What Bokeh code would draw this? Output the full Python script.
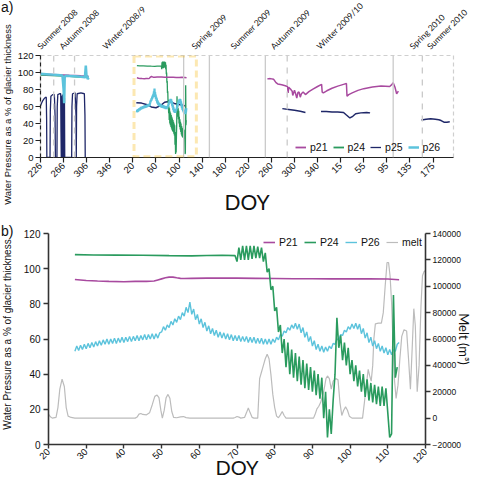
from math import pi
from bokeh.plotting import figure
from bokeh.layouts import column, row
from bokeh.models import (Range1d, LinearAxis, FixedTicker, Span, BoxAnnotation,
                          Legend, LegendItem, BasicTickFormatter)
from bokeh.core.properties import value
from bokeh.embed import file_html
from bokeh.resources import INLINE

# ---------------- Panel a : days counted from DOY 226 of 2008 ----------------
a_tick_day = [0, 40, 80, 120, 160, 200, 240, 280, 320, 360, 400, 440, 480, 520, 560, 600, 640, 680]
a_tick_label = ["226", "266", "306", "346", "20", "60", "100", "140", "180", "220",
                "260", "300", "340", "15", "55", "95", "135", "175"]
doy2009_offset = 140

season_name = ["Summer 2008", "Autumn 2008", "Winter 2008/9", "Spring 2009", "Summer 2009",
               "Autumn 2009", "Winter 2009/10", "Spring 2010", "Summer 2010"]
season_label_day = [8.6, 46.5, 120.5, 273.7, 340.8, 409.7, 488.8, 648.9, 679]
season_line_day = [22.9, 59, 248, 292.6, 389.5, 427.4, 611, 661.5]
season_line_dash = ["dashed", "dashed", "solid", "solid", "solid", "dashed", "solid", "dashed"]
zoom_box_day = [162, 270]

a_p21_2008_day = [0, 10, 20, 30, 40, 50, 60, 70, 80, 83]
a_p21_2008_val = [98, 97.8, 97.5, 97.2, 97, 96.6, 96.3, 96, 95.8, 95.5]
a_p24_2008_val = [97.3, 97, 96.7, 96.3, 96, 95.7, 95.3, 95, 94.8, 94.5]
a_p26_2008_day = [0, 10, 20, 30, 38, 40, 41, 42, 44, 50, 60, 70, 77, 78.5, 80, 81, 82, 83]
a_p26_2008_val = [98.5, 98, 97.5, 97, 96.5, 80, 64, 95, 96.2, 96, 95.5, 95, 94.5, 108, 93, 96, 92, 94]
a_p25_2008_day = [0, 2, 4, 6, 8, 10, 10.6, 11, 16.5, 17, 18, 21, 24, 25.2, 25.8, 28.5, 29, 30, 33, 35,
                  35.5, 36, 36.5, 37, 37.5, 38, 38.5, 39, 39.5, 40, 40.5, 41, 41.5, 42, 54, 54.5, 55.5,
                  60, 61.5, 62, 62.5, 63.5, 70, 76, 77, 77.5]
a_p25_2008_val = [61, 64, 67, 69, 70.5, 71, 45, 0, 0, 55, 72, 74, 74, 50, 0, 0, 60, 74, 75, 75,
                  30, 0, 72, 0, 73, 0, 74, 0, 72, 0, 73, 0, 70, 0, 0, 60, 75,
                  76, 50, 0, 60, 75, 76, 75, 50, 0]
a_p25_box_day = [166, 175, 185, 192, 200, 208, 215, 222, 232, 242, 252]
a_p25_box_val = [64.5, 64, 62, 59.5, 58.5, 61, 65, 66, 63.5, 62, 60.5]
a_p21_late_day = [393, 398, 404, 408, 411, 418, 424, 428, 429, 430, 433, 436, 437, 440, 442, 444, 446,
                  448, 450, 452, 455, 459, 465, 472, 480, 487, 488, 490, 496, 505, 515, 525, 530, 531,
                  534, 540, 550, 560, 575, 590, 605, 609, 611, 614, 617, 620]
a_p21_late_val = [92.5, 92.8, 92, 88, 86.5, 85.5, 84.5, 83.5, 76, 82.5, 80.5, 78, 73, 79, 75, 70, 76.5,
                  77, 71, 75, 77, 74, 77.5, 80.5, 83.5, 86, 77, 76, 78.5, 81.5, 84, 86, 87, 72,
                  74, 76, 79, 81, 83, 84, 83.5, 86, 88, 83, 75, 78]
a_p25_late1_day = [419, 430, 440, 450, 459]
a_p25_late1_val = [57.5, 56.5, 55.5, 54.5, 53]
a_p25_late2_day = [486, 495, 505, 515, 525, 530, 536, 541, 546, 555, 565, 571]
a_p25_late2_val = [54, 54, 53.5, 53.5, 53, 50, 46.5, 48.5, 51.5, 52.5, 53, 52.5]
a_p25_late3_day = [660, 668, 676, 684, 690, 694, 699, 704, 709]
a_p25_late3_val = [44, 45, 45.5, 45, 44.5, 43.5, 41.5, 41.5, 42]

# ---------------- Panel b : DOY 2009 ----------------
b_x_ticks = [20, 30, 40, 50, 60, 70, 80, 90, 100, 110, 120]
b_y_ticks = [0, 20, 40, 60, 80, 100, 120]
melt_ticks = [-20000, 0, 20000, 40000, 60000, 80000, 100000, 120000, 140000]

p21_doy = [27, 30, 33, 36, 40, 43, 46, 48, 49, 50, 51, 52, 53, 54, 55, 56, 58, 62, 66, 70,
           75, 80, 85, 90, 95, 100, 105, 110, 113]
p21_val = [93.8, 93.3, 93.0, 92.8, 92.6, 92.8, 92.8, 93.0, 93.6, 94.2, 94.8, 95.2, 95.2, 94.8, 94.5,
           94.4, 94.5, 94.6, 94.6, 94.6, 94.5, 94.4, 94.3, 94.3, 94.2, 94.2, 94.3, 94.1, 93.7]

p24_flat_doy = [27, 32, 38, 45, 52, 58, 62, 66, 69.5]
p24_flat_val = [108, 107.8, 107.7, 107.6, 107.4, 107.3, 107.5, 107.6, 107.4]
p24_osc_start = 70
p24_osc_val = [104, 112, 105, 113, 105, 113, 105, 113, 105.5, 113,
               106, 112.5, 106, 112, 104, 109, 98, 100, 88, 90,
               76, 78, 64, 68, 52, 60, 44, 58, 40, 54,
               38, 52, 36, 50, 34, 48, 32, 46, 31, 44,
               30, 42, 28, 40, 26, 38, 15, 30, 4, 20,
               6, 25, 40, 72, 55, 62, 48, 58, 45, 55,
               40, 48, 36, 45, 33, 42, 30, 40, 27, 37,
               25, 35, 24, 34, 23, 33, 22, 33, 22, 32,
               18, 4, 6, 85, 38, 44]

p26_start = 27
p26_val = [53, 56, 53.5, 56.5, 54, 57, 54.5, 57.5, 55, 58,
           55.5, 58.5, 56, 59, 56.5, 59.5, 57, 60, 57, 60,
           57.5, 60.5, 57.5, 60.5, 58, 61, 58, 61, 58.5, 61.5,
           58.5, 61.5, 59, 62, 59, 62, 59.5, 62.5, 59.5, 62.5,
           60, 63, 60, 63, 60.5, 63.5, 64, 67, 65, 68,
           66.5, 70, 68, 71.5, 69.5, 73, 71, 75, 73, 78,
           75, 81, 74, 77, 71, 74, 68.5, 71.5, 66.5, 69.5,
           64.5, 67.5, 63, 66, 62, 65, 61, 64, 60.5, 63.5,
           60, 63, 59.5, 62.5, 59, 62, 59, 62, 58.5, 61.5,
           58.5, 61.5, 58, 61, 58, 61, 57.5, 60.5, 57.5, 60.5,
           57, 60, 57, 60, 57, 60, 58, 61, 59.5, 62.5,
           61.5, 64.5, 63.5, 66.5, 65, 68, 66, 69, 65.5, 68.5,
           63.5, 66.5, 61, 64, 58.5, 61.5, 56, 59, 54, 57,
           53, 56, 52.5, 55.5, 53, 56, 54.5, 57.5, 57, 60,
           59.5, 62.5, 62, 65, 64, 67, 65.5, 68.5, 66, 69,
           65.5, 68.5, 63, 66, 60.5, 63.5, 58, 61, 56, 59,
           54.5, 57.5, 53, 56, 52, 55, 51, 54, 51, 54,
           53, 57, 58]

melt_doy = [20, 20.5, 21, 22, 22.5, 23, 23.6, 24.2, 24.7, 25.2,
            26, 27, 43, 43.5, 44, 44.5, 45, 46, 46.8, 47.5,
            48.2, 48.8, 49.3, 49.8, 50.2, 50.7, 51.2, 51.7, 52.2, 52.7,
            53.2, 54, 55, 55.8, 56.5, 57.5, 69, 69.5, 70, 70.5,
            71, 72, 72.5, 73, 73.5, 74, 74.5, 75.5, 76, 76.5,
            77, 77.5, 78, 78.5, 79, 79.5, 80, 80.5, 81, 81.5,
            82, 82.5, 83, 90.3, 90.8, 91.2, 91.7, 92.2, 93, 93.6,
            94, 94.5, 95, 95.5, 96.2, 96.8, 97.3, 97.8, 98.3, 98.8,
            99.3, 99.8, 100.5, 103.3, 103.8, 104.3, 104.8, 105.2, 105.6, 106.0,
            106.3, 106.7, 107.5, 108.3, 108.8, 109.3, 109.8, 110.2, 110.6, 111.0,
            111.4, 111.8, 112.2, 112.7, 113.2, 113.7, 114.3, 115.0, 115.5, 116.0,
            116.5, 116.9, 117.3, 117.8, 118.3, 118.8, 119.2, 119.6, 120.0]
melt_m3 = [3000, 1000, 0, 500, 8000, 22000, 29500, 24000, 8000, 1500,
           500, 0, 0, 800, 3000, 3500, 2800, 2500, 4000, 10000,
           16500, 17500, 15500, 6000, 0, 6000, 15500, 18000, 15000, 5000,
           500, 300, 1000, 1200, 400, 0, 0, 500, 1200, 800,
           0, 500, 4000, 7700, 4000, 600, 0, 0, 30000, 35000,
           40000, 45000, 48500, 45000, 33000, 18000, 8000, 1500, 300, 2500,
           5000, 2000, 0, 0, 3500, 7000, 9000, 12000, 20000, 30000,
           32000, 30000, 22000, 28000, 30000, 29000, 12000, 2000, 6000, 8500,
           6000, 1500, 0, 0, 12000, 25000, 37000, 32000, 28000, 40000,
           60000, 71500, 72000, 72000, 80000, 100000, 118000, 118000, 108000, 88000,
           55000, 28000, 15000, 25000, 45000, 62000, 67000, 66000, 45000, 22000,
           55000, 83000, 70000, 20000, 40000, 85000, 108000, 111000, 112000]

# derived x grids
p24_doy = p24_flat_doy + [p24_osc_start + 0.5 * i for i in range(len(p24_osc_val))]
p24_val = p24_flat_val + p24_osc_val
p26_doy = [p26_start + 0.5 * i for i in range(len(p26_val))]

C21, C24, C25, C26, CM = "#a84a9f", "#2a9b5e", "#1f2768", "#5cc3dc", "#bcbcbc"
AX = "Liberation Sans"
CAL = "Lato"
YLABEL = "Water Pressure as a % of glacier thickness"

LAB_W = 14           # narrow column holding the vertical axis titles and panel letters
W = 475 - LAB_W
TOTAL_H = 484
A_LEFT, A_RIGHT = 37 - LAB_W, 22
A_X1 = 715.5
day_per_px = A_X1 / (W - A_LEFT - A_RIGHT)
STRIP_H = 52
PA_H = 164
PB_H = TOTAL_H - STRIP_H - PA_H

# ======================= left label column =======================
lab = figure(width=LAB_W, height=TOTAL_H, x_range=Range1d(0, LAB_W), y_range=Range1d(0, TOTAL_H),
             output_backend="svg", toolbar_location=None, x_axis_type=None, y_axis_type=None,
             frame_align=False, min_border_left=0, min_border_right=0, min_border_top=0,
             min_border_bottom=0)
lab.grid.visible = False
lab.outline_line_color = None
lab.text(x=[7], y=[TOTAL_H - 114], text=[YLABEL], angle=pi / 2,
         text_font=value(AX), text_font_size="9.5px", text_color="#111111",
         text_align="center", text_baseline="middle")
lab.text(x=[7], y=[TOTAL_H - 334], text=[YLABEL], angle=pi / 2,
         text_font=value(AX), text_font_size="10px", text_color="#111111",
         text_align="center", text_baseline="middle")
lab.text(x=[0.5, 0.5], y=[TOTAL_H - 14, TOTAL_H - 238], text=["a)", "b)"],
         text_font=value(AX), text_font_size="14px", text_color="#111111",
         text_align="left", text_baseline="bottom")

# ======================= season strip (above panel a) =======================
strip = figure(width=W, height=STRIP_H, x_range=Range1d(-A_LEFT * day_per_px, A_X1 + A_RIGHT * day_per_px),
               y_range=Range1d(0, STRIP_H), output_backend="svg", toolbar_location=None,
               x_axis_type=None, y_axis_type=None, frame_align=False,
               min_border_left=0, min_border_right=0, min_border_top=0, min_border_bottom=0)
strip.grid.visible = False
strip.outline_line_color = None
strip.text(x=season_label_day, y=[1] * len(season_label_day), text=season_name, angle=pi / 4,
           text_font=value(CAL), text_font_size="8.5px", text_color="#111111",
           text_align="left", text_baseline="bottom")

# ======================= Panel a =======================
pa = figure(width=W, height=PA_H, x_range=Range1d(0, A_X1), y_range=Range1d(0, 120),
            output_backend="svg", toolbar_location=None, frame_align=False,
            min_border_left=A_LEFT, min_border_right=A_RIGHT, min_border_top=3, min_border_bottom=59)
pa.grid.visible = False
pa.outline_line_color = "#cfcfcf"
pa.outline_line_dash = "4 3"
pa.outline_line_width = 1.2

for d, dash in zip(season_line_day, season_line_dash):
    pa.add_layout(Span(location=d, dimension="height", line_color="#cacaca",
                       line_width=1.3, line_dash=dash))

pa.add_layout(BoxAnnotation(left=zoom_box_day[0], right=zoom_box_day[1], bottom=1, top=119.5,
                            fill_alpha=0, line_color="#f5b400", line_width=3, line_dash="7 4"))

r25 = pa.line(a_p25_2008_day, a_p25_2008_val, color=C25, line_width=1.3)
pa.line(a_p25_box_day, a_p25_box_val, color=C25, line_width=1.5)
pa.line(a_p25_late1_day, a_p25_late1_val, color=C25, line_width=1.5)
pa.line(a_p25_late2_day, a_p25_late2_val, color=C25, line_width=1.5)
pa.line(a_p25_late3_day, a_p25_late3_val, color=C25, line_width=1.5)

r24 = pa.line(a_p21_2008_day, a_p24_2008_val, color=C24, line_width=1.8)
pa.line([d + doy2009_offset for d in p24_doy], p24_val, color=C24, line_width=1.3)
r21 = pa.line(a_p21_2008_day, a_p21_2008_val, color=C21, line_width=1.8)
pa.line([d + doy2009_offset for d in p21_doy], p21_val, color=C21, line_width=1.5)
pa.line(a_p21_late_day, a_p21_late_val, color=C21, line_width=1.5)
r26 = pa.line(a_p26_2008_day, a_p26_2008_val, color=C26, line_width=2.5)
pa.line([d + doy2009_offset for d in p26_doy], p26_val, color=C26, line_width=2.2)

leg_a = Legend(items=[LegendItem(label="p21", renderers=[r21]),
                      LegendItem(label="p24", renderers=[r24]),
                      LegendItem(label="p25", renderers=[r25]),
                      LegendItem(label="p26", renderers=[r26])],
               orientation="horizontal", location=(255, 4), background_fill_alpha=0,
               border_line_color=None, glyph_width=11, glyph_height=12, label_standoff=4,
               label_width=16, spacing=5, padding=2, margin=0, label_text_font=AX,
               label_text_font_size="10.5px", label_text_color="#111111")
pa.add_layout(leg_a)

xa = pa.xaxis[0]
xa.ticker = FixedTicker(ticks=a_tick_day)
xa.major_label_overrides = {d: l for d, l in zip(a_tick_day, a_tick_label)}
xa.major_label_orientation = pi / 4
xa.axis_label = "DOY"
xa.axis_label_text_font = CAL
xa.axis_label_text_font_size = "21px"
xa.axis_label_standoff = 6
ya = pa.yaxis[0]
ya.ticker = FixedTicker(ticks=b_y_ticks)
ya.axis_line_dash = "4 3"
for ax in (xa, ya):
    ax.axis_line_color = "#222222"
    ax.axis_line_width = 1.2
    ax.major_tick_line_color = "#222222"
    ax.major_tick_line_width = 1.2
    ax.major_tick_out = 5
    ax.major_tick_in = 0
    ax.minor_tick_line_color = None
    ax.major_label_text_font = AX
    ax.major_label_text_font_size = "9.5px"
    ax.major_label_text_color = "#111111"
    ax.major_label_standoff = 2
    ax.axis_label_text_font_style = "normal"
    ax.axis_label_text_color = "#111111"

# ======================= Panel b =======================
pb = figure(width=W, height=PB_H, x_range=Range1d(20, 120), y_range=Range1d(0, 120),
            output_backend="svg", toolbar_location=None, frame_align=False,
            min_border_left=48 - LAB_W, min_border_right=50, min_border_top=17, min_border_bottom=40)
pb.grid.visible = False
pb.outline_line_color = None
pb.extra_y_ranges = {"melt": Range1d(-20000, 140000)}

rm = pb.line(melt_doy, melt_m3, color=CM, line_width=1.2, y_range_name="melt")
rb21 = pb.line(p21_doy, p21_val, color=C21, line_width=1.6)
rb26 = pb.line(p26_doy, p26_val, color=C26, line_width=1.4)
rb24 = pb.line(p24_doy, p24_val, color=C24, line_width=1.6)

ax_r = LinearAxis(y_range_name="melt", ticker=FixedTicker(ticks=melt_ticks),
                  formatter=BasicTickFormatter(use_scientific=False), axis_label="Melt (m³)")
pb.add_layout(ax_r, "right")

leg_b = Legend(items=[LegendItem(label="P21", renderers=[rb21]),
                      LegendItem(label="P24", renderers=[rb24]),
                      LegendItem(label="P26", renderers=[rb26]),
                      LegendItem(label="melt", renderers=[rm])],
               orientation="horizontal", location="top_right", background_fill_alpha=0,
               border_line_color=None, glyph_width=12, glyph_height=12, label_standoff=4,
               spacing=5, padding=2, margin=3, label_text_font=AX,
               label_text_font_size="10.5px", label_text_color="#111111")
pb.add_layout(leg_b)

xb = pb.xaxis[0]
xb.ticker = FixedTicker(ticks=b_x_ticks)
xb.major_label_orientation = pi / 4
xb.axis_label = "DOY"
xb.axis_label_text_font = CAL
xb.axis_label_text_font_size = "20px"
xb.axis_label_standoff = -14
yb = pb.yaxis[0]
yb.ticker = FixedTicker(ticks=b_y_ticks)
for ax in (xb, yb, ax_r):
    ax.axis_line_color = "#333333"
    ax.axis_line_width = 1.6
    ax.major_tick_line_color = "#333333"
    ax.major_tick_line_width = 1.4
    ax.major_tick_out = 5
    ax.major_tick_in = 0
    ax.minor_tick_line_color = None
    ax.major_label_text_font = AX
    ax.major_label_text_font_size = "10px"
    ax.major_label_text_color = "#111111"
    ax.major_label_standoff = 3
    ax.axis_label_text_font_style = "normal"
    ax.axis_label_text_color = "#111111"
xb.major_label_text_font_size = "9.5px"
xb.major_label_standoff = 2
xb.major_tick_out = 4
ax_r.major_label_text_font_size = "8.5px"
ax_r.major_label_standoff = 2
ax_r.axis_label_text_font = CAL
ax_r.axis_label_text_font_size = "13px"
ax_r.axis_label_standoff = -8

layout = row(lab, column(strip, pa, pb, spacing=0), spacing=0)
open("out.html", "w").write(file_html(layout, INLINE))
